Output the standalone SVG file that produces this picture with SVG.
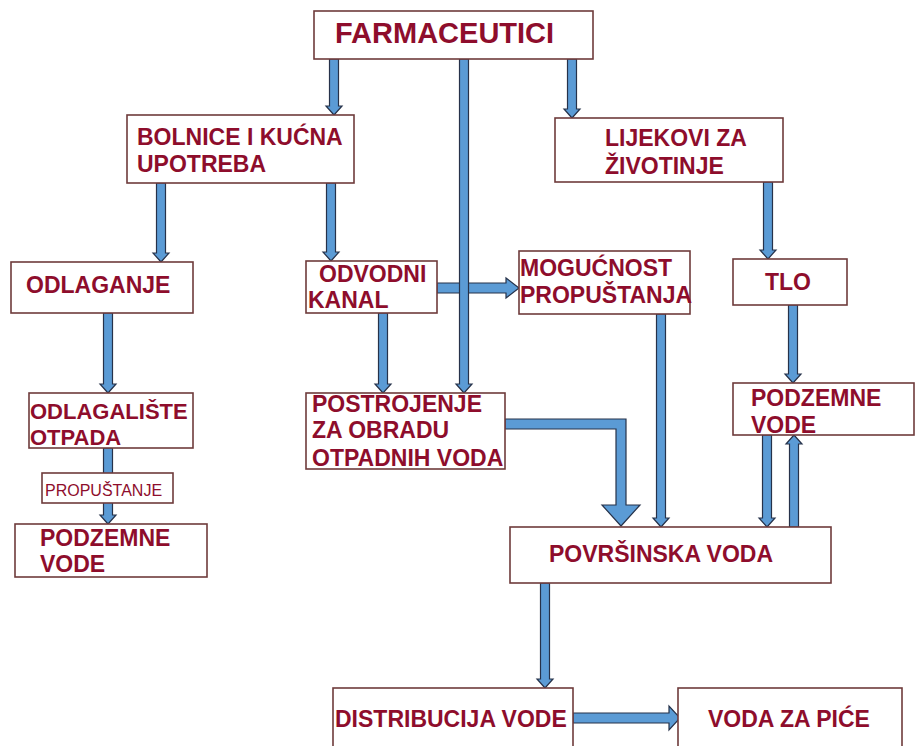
<svg xmlns="http://www.w3.org/2000/svg" width="915" height="746" viewBox="0 0 915 746">
<style>
.box{fill:#fff;stroke:#6e3b3b;stroke-width:1.6}
.t{font-family:"Liberation Sans",Arial,sans-serif;font-weight:bold;font-size:23px;fill:#8e0d2c}
.ts{font-family:"Liberation Sans",Arial,sans-serif;font-size:16px;fill:#8e0d2c}
.ar{fill:#5b9bd5;stroke:#26324a;stroke-width:1.2;stroke-linejoin:miter}
</style>
<rect width="915" height="746" fill="#fff"/>
<g id="connectors">
<path class="ar" d="M437,283 V293 H506 V298 L519,288 L506,278 V283 Z"/>
<path class="ar" d="M329.5,59 H338.5 V106 H342 L334,115 L326,106 H329.5 Z"/>
<path class="ar" d="M459.5,59 H468.5 V384 H472 L464,393 L456,384 H459.5 Z"/>
<path class="ar" d="M567.5,59 H576.5 V109 H580 L572,118 L564,109 H567.5 Z"/>
<path class="ar" d="M156.5,183 H165.5 V253 H169 L161,262 L153,253 H156.5 Z"/>
<path class="ar" d="M326.5,183 H335.5 V252 H339 L331,261 L323,252 H326.5 Z"/>
<path class="ar" d="M103.5,313 H112.5 V384 H116 L108,393 L100,384 H103.5 Z"/>
<path class="ar" d="M103.5,448 H112.5 V515 H116 L108,524 L100,515 H103.5 Z"/>
<path class="ar" d="M378.5,313 H387.5 V384 H391 L383,393 L375,384 H378.5 Z"/>
<path class="ar" d="M656.5,314 H665.5 V518 H669 L661,527 L653,518 H656.5 Z"/>
<path class="ar" d="M505,419 H626 V505 H640 L621,526 L602,505 H616 V429 H505 Z"/>
<path class="ar" d="M763.5,182 H772.5 V250 H776 L768,259 L760,250 H763.5 Z"/>
<path class="ar" d="M788.5,305 H797.5 V374 H801 L793,383 L785,374 H788.5 Z"/>
<path class="ar" d="M762.5,435 H771.5 V518 H775 L767,527 L759,518 H762.5 Z"/>
<path class="ar" d="M789.5,527 H798.5 V444 H802 L794,435 L786,444 H789.5 Z"/>
<path class="ar" d="M540.5,583 H549.5 V679 H553 L545,688 L537,679 H540.5 Z"/>
<path class="ar" d="M573,713 V723 H669 V730 L680,718 L669,706 V713 Z"/>
</g>
<g id="farmaceutici"><rect class="box" x="314" y="11" width="279" height="48"/><text class="t" x="335" y="43" style="font-size:29px">FARMACEUTICI</text></g>
<g id="bolnice"><rect class="box" x="127" y="115" width="227" height="68"/><text class="t" x="137" y="145">BOLNICE I KUĆNA</text><text class="t" x="137" y="172">UPOTREBA</text></g>
<g id="lijekovi"><rect class="box" x="555" y="118" width="228" height="64"/><text class="t" x="605" y="146">LIJEKOVI ZA</text><text class="t" x="605" y="174">ŽIVOTINJE</text></g>
<g id="odlaganje"><rect class="box" x="11" y="262" width="182" height="51"/><text class="t" x="26" y="293">ODLAGANJE</text></g>
<g id="odvodni"><rect class="box" x="306" y="261" width="131" height="52"/><text class="t" x="319" y="282">ODVODNI</text><text class="t" x="308" y="308">KANAL</text></g>
<g id="mogucnost"><rect class="box" x="519" y="251" width="171" height="63"/><text class="t" x="520" y="276">MOGUĆNOST</text><text class="t" x="520" y="303">PROPUŠTANJA</text></g>
<g id="tlo"><rect class="box" x="733" y="259" width="114" height="46"/><text class="t" x="765" y="290">TLO</text></g>
<g id="odlagaliste"><rect class="box" x="29" y="393" width="164" height="55"/><text class="t" x="30" y="419" style="font-size:22px">ODLAGALIŠTE</text><text class="t" x="30" y="445" style="font-size:22px">OTPADA</text></g>
<g id="postrojenje"><rect class="box" x="306" y="393" width="199" height="76"/><text class="t" x="312" y="412">POSTROJENJE</text><text class="t" x="312" y="438">ZA OBRADU</text><text class="t" x="312" y="466">OTPADNIH VODA</text></g>
<g id="podzemne-desno"><rect class="box" x="733" y="383" width="181" height="52"/><text class="t" x="751" y="406">PODZEMNE</text><text class="t" x="751" y="433">VODE</text></g>
<g id="propustanje"><rect class="box" x="42" y="473" width="131" height="30"/><text class="ts" x="45" y="496">PROPUŠTANJE</text></g>
<g id="podzemne-lijevo"><rect class="box" x="15" y="524" width="192" height="53"/><text class="t" x="40" y="546">PODZEMNE</text><text class="t" x="40" y="572">VODE</text></g>
<g id="povrsinska"><rect class="box" x="510" y="527" width="321" height="56"/><text class="t" x="549" y="562">POVRŠINSKA VODA</text></g>
<g id="distribucija"><rect class="box" x="333" y="688" width="240" height="80"/><text class="t" x="335" y="727">DISTRIBUCIJA VODE</text></g>
<g id="voda-za-pice"><rect class="box" x="678" y="688" width="224" height="80"/><text class="t" x="708" y="727">VODA ZA PIĆE</text></g>
</svg>
